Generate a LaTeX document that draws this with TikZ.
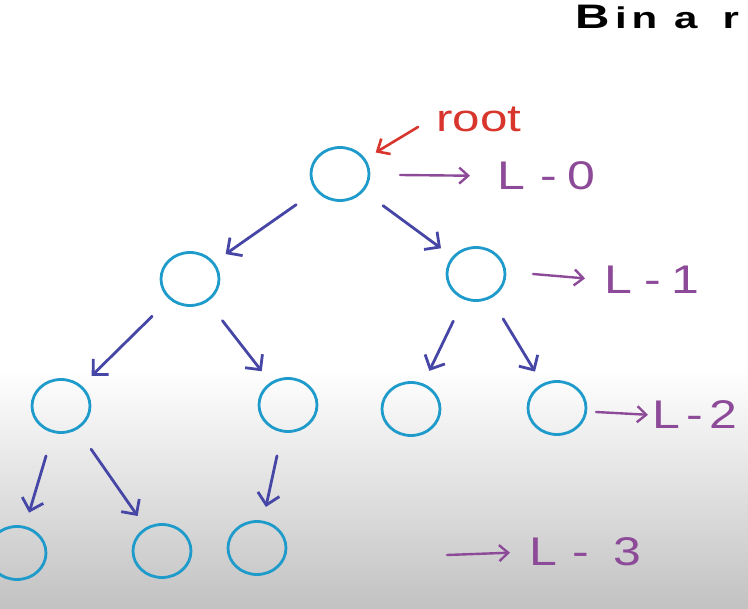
\documentclass[tikz,border=0pt]{standalone}
\usepackage{fontspec}
\setmainfont{Liberation Sans}
\usetikzlibrary{arrows.meta,shapes.geometric}
\definecolor{nodeblue}{HTML}{1E9BCB}
\definecolor{edgeblue}{HTML}{4646A6}
\definecolor{lvlpurple}{HTML}{8C4A98}
\definecolor{rootred}{HTML}{D8352C}
\newcommand{\lvlwide}[1]{\scalebox{1.25}[1]{#1}}
\begin{document}
\begin{tikzpicture}[x=1pt,y=-1pt,
  tnode/.style={ellipse, draw=nodeblue, line width=2.8pt, minimum width=58pt, minimum height=53pt, inner sep=0pt},
  edgearrow/.style={draw=edgeblue, line width=2.8pt, line cap=round, -{Straight Barb[length=11pt,width=22pt,line width=2.8pt]}, shorten <=24pt, shorten >=14pt},
  lvlarrow/.style={draw=lvlpurple, line width=2.4pt, line cap=round, -{Straight Barb[length=9pt,width=16pt,line width=2.4pt]}},
  lvltext/.style={text=lvlpurple, font=\fontsize{40}{40}\selectfont, anchor=west, inner sep=0pt},
  redarrow/.style={draw=rootred, line width=2.6pt, line cap=round, -{Straight Barb[length=10pt,width=18pt,line width=2.6pt]}},
]
\useasboundingbox (0,0) rectangle (748,609);
\clip (0,0) rectangle (748,609);
\fill[white] (0,0) rectangle (748,370);
\shade[top color=white, bottom color=black!24] (0,370) rectangle (748,609);

% title
\node[anchor=base west, inner sep=0pt] (title) at (575,29)
  {\scalebox{1.4}[1]{\bfseries\fontsize{34}{34}\selectfont B\fontsize{30}{30}\selectfont\hspace{4pt}i\hspace{3.5pt}n\hspace{12pt}a\hspace{18pt}r}};

% tree nodes
\node[tnode] (root) at (340,174) {};
\node[tnode] (a) at (190,279) {};
\node[tnode] (b) at (476,274) {};
\node[tnode] (aa) at (61,406) {};
\node[tnode] (ab) at (288,405) {};
\node[tnode] (ba) at (411,409) {};
\node[tnode] (bb) at (557,408) {};
\node[tnode] (aaa) at (17,553) {};
\node[tnode] (aab) at (162,551) {};
\node[tnode] (aba) at (257,548) {};

% edges
\draw[edgearrow] (root) -- (a);
\draw[edgearrow] (root) -- (b);
\draw[edgearrow] (a) -- (aa);
\draw[edgearrow] (a) -- (ab);
\draw[edgearrow] (b) -- (ba);
\draw[edgearrow] (b) -- (bb);
\draw[edgearrow] (aa) -- (aaa);
\draw[edgearrow] (aa) -- (aab);
\draw[edgearrow] (ab) -- (aba);

% root label
\node[text=rootred, anchor=base west, inner sep=0pt] (rootlbl) at (436,132)
  {\fontsize{38}{38}\selectfont\scalebox{1.3}[1]{root}};
\coordinate (rs) at (418,127);
\draw[redarrow, shorten >=12pt] (rs) -- (root);

% level labels
\node[lvltext] (L0) at (497,176) {\lvlwide{L\hspace{12pt}-\hspace{9pt}0}};
\coordinate (a0) at (400,175);
\draw[lvlarrow, shorten >=27pt] (a0) -- (L0.west);

\node[lvltext] (L1) at (604,280) {\lvlwide{L\hspace{10pt}-\hspace{8pt}1}};
\coordinate (a1) at (533,274);
\draw[lvlarrow, shorten >=19pt] (a1) -- (L1.west);

\node[lvltext] (L2) at (652,415) {\lvlwide{L\hspace{5pt}-\hspace{5pt}2}};
\coordinate (a2) at (596,412);
\draw[lvlarrow, shorten >=4pt] (a2) -- (L2.west);

\node[lvltext] (L3) at (529,552) {\lvlwide{L\hspace{12pt}-\hspace{20pt}3}};
\coordinate (a3) at (447,555);
\draw[lvlarrow, shorten >=19pt] (a3) -- (L3.west);
\end{tikzpicture}
\end{document}
